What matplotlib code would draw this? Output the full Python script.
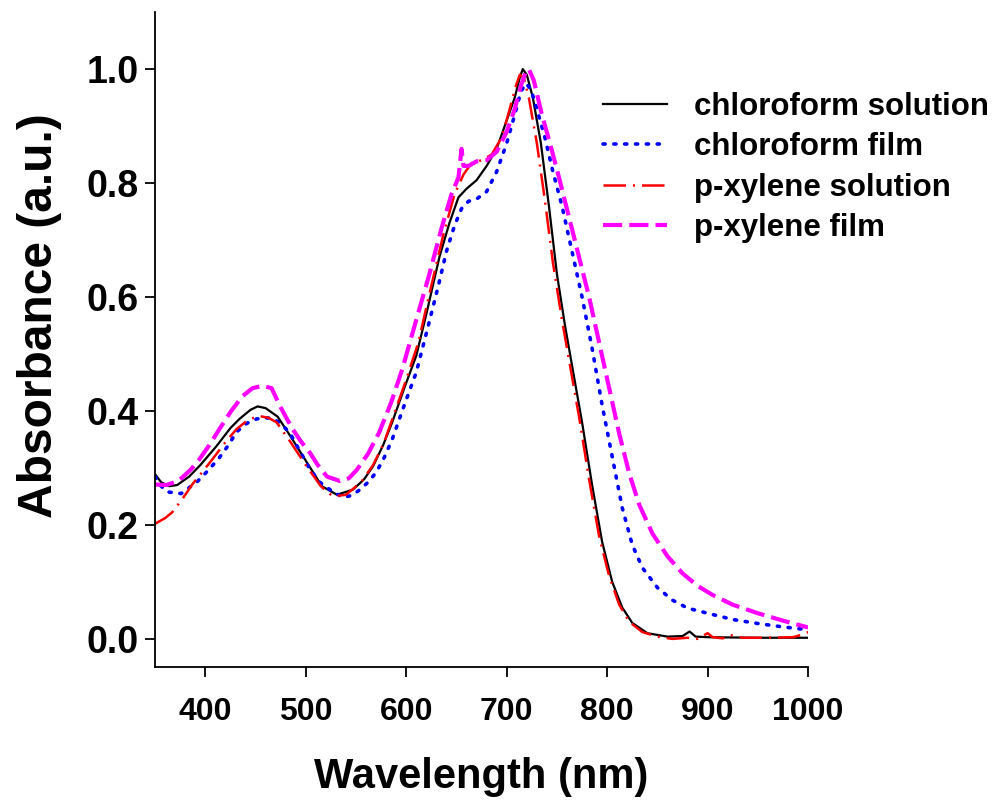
import numpy as np
import matplotlib
matplotlib.use("Agg")
import matplotlib.pyplot as plt

plt.rcParams['font.family'] = ['Liberation Sans', 'DejaVu Sans']
plt.rcParams['font.weight'] = 'bold'

wl_cs = np.array([350, 356, 364, 372, 384, 395, 411, 425, 434, 445, 452, 460, 472, 485, 501, 516, 531, 547, 558, 567,
                  577, 586, 598, 610, 620, 633, 643, 652, 660, 670, 680, 690, 700, 708, 713, 716, 720, 726, 734, 742,
                  750, 758, 766, 775, 785, 795, 805, 815, 825, 840, 860, 875, 882, 888, 900, 950, 1000])
a_cs = np.array([0.289, 0.275, 0.268, 0.27, 0.285, 0.305, 0.338, 0.37, 0.386, 0.402, 0.408, 0.405, 0.39, 0.355, 0.31,
                 0.268, 0.253, 0.262, 0.28, 0.303, 0.34, 0.38, 0.44, 0.497, 0.57, 0.67, 0.73, 0.775, 0.79, 0.805,
                 0.83, 0.86, 0.91, 0.95, 0.985, 1.0, 0.99, 0.95, 0.87, 0.76, 0.64, 0.55, 0.47, 0.38, 0.27, 0.17, 0.1,
                 0.055, 0.028, 0.01, 0.004, 0.005, 0.013, 0.004, 0.003, 0.002, 0.002])

wl_cf = np.array([350, 355, 362, 376, 392, 403, 414, 423, 431, 441, 451, 460, 467, 475, 484, 494, 504, 514, 524, 537,
                  546, 554, 562, 570, 578, 586, 598, 610, 622, 632, 640, 648, 655, 662, 670, 680, 690, 700, 708, 714,
                  719, 724, 730, 738, 746, 755, 765, 775, 785, 795, 805, 815, 825, 835, 850, 865, 880, 900, 925, 950,
                  975, 1000])
a_cf = np.array([0.285, 0.27, 0.258, 0.255, 0.276, 0.296, 0.318, 0.34, 0.363, 0.378, 0.386, 0.388, 0.387, 0.378, 0.362,
                 0.33, 0.298, 0.275, 0.262, 0.248, 0.252, 0.262, 0.275, 0.292, 0.318, 0.35, 0.41, 0.468, 0.55, 0.62,
                 0.68, 0.725, 0.755, 0.768, 0.772, 0.785, 0.82, 0.87, 0.92, 0.96, 0.975, 0.965, 0.93, 0.88, 0.82,
                 0.76, 0.68, 0.6, 0.51, 0.41, 0.32, 0.23, 0.165, 0.125, 0.09, 0.068, 0.054, 0.045, 0.034, 0.027,
                 0.021, 0.016])

wl_xs = np.array([350, 360, 367, 377, 387, 397, 407, 419, 431, 443, 454, 463, 471, 485, 500, 515, 527, 540, 555, 567,
                  578, 590, 600, 612, 625, 637, 648, 657, 665, 675, 685, 695, 703, 709, 713, 717, 722, 730, 738, 746,
                  755, 763, 772, 782, 792, 802, 812, 822, 835, 850, 865, 880, 890, 900, 905, 915, 922, 935, 960, 985,
                  995, 1000])
a_xs = np.array([0.202, 0.212, 0.222, 0.245, 0.271, 0.293, 0.315, 0.343, 0.368, 0.385, 0.391, 0.388, 0.38, 0.345,
                 0.305, 0.268, 0.25, 0.253, 0.275, 0.305, 0.345, 0.405, 0.455, 0.52, 0.62, 0.71, 0.78, 0.815, 0.835,
                 0.84, 0.85, 0.88, 0.93, 0.97, 0.99, 0.985, 0.95, 0.87, 0.77, 0.66, 0.56, 0.48, 0.39, 0.28, 0.18,
                 0.11, 0.06, 0.03, 0.012, 0.004, 0.0, 0.002, 0.0, 0.01, 0.003, 0.001, 0.007, 0.002, 0.002, 0.003,
                 0.008, 0.012])

wl_xf = np.array([350, 361, 370, 377, 386, 394, 404, 414, 425, 437, 447, 457, 466, 474, 480, 487, 495, 504, 512, 521,
                  534, 543, 551, 562, 573, 585, 596, 610, 623, 635, 645, 652, 655, 657, 662, 670, 680, 690, 700, 708,
                  714, 719, 722, 727, 735, 743, 752, 762, 772, 782, 792, 802, 812, 822, 832, 845, 860, 875, 890, 905,
                  925, 950, 975, 1000])
a_xf = np.array([0.271, 0.27, 0.275, 0.283, 0.298, 0.315, 0.34, 0.368, 0.398, 0.426, 0.44, 0.444, 0.44, 0.41, 0.39,
                 0.368, 0.347, 0.327, 0.305, 0.285, 0.277, 0.282, 0.297, 0.325, 0.362, 0.415, 0.473, 0.56, 0.64,
                 0.72, 0.78, 0.81, 0.86, 0.83, 0.83, 0.838, 0.84, 0.855, 0.89, 0.93, 0.97, 0.995, 1.0, 0.98, 0.92,
                 0.87, 0.81, 0.74, 0.67, 0.6, 0.52, 0.44, 0.36, 0.29, 0.235, 0.185, 0.145, 0.115, 0.093, 0.077,
                 0.06, 0.045, 0.032, 0.02])

labels = ["chloroform solution", "chloroform film", "p-xylene solution", "p-xylene film"]

fig = plt.figure(figsize=(9.94, 8.07), dpi=100)
ax = fig.add_axes([0.156, 0.173, 0.657, 0.812])

ax.plot(wl_cs, a_cs, color='black', lw=1.6, label=labels[0])
ax.plot(wl_cf, a_cf, color='blue', lw=2.6, linestyle=(0, (0.6, 2.4)), dash_capstyle='round', label=labels[1])
ax.plot(wl_xs, a_xs, color='red', lw=1.8, linestyle=(0, (9, 2.8, 0.8, 2.8)), label=labels[2])
ax.plot(wl_xf, a_xf, color='magenta', lw=3.0, linestyle=(0, (4.6, 1.7)), label=labels[3])

ax.set_xlim(350, 1000)
ax.set_ylim(-0.05, 1.1)
ax.set_xticks([400, 500, 600, 700, 800, 900, 1000])
ax.set_yticks([0.0, 0.2, 0.4, 0.6, 0.8, 1.0])
ax.yaxis.set_major_formatter(matplotlib.ticker.FormatStrFormatter('%.1f'))
ax.spines['top'].set_visible(False)
ax.spines['right'].set_visible(False)
for s in ['left', 'bottom']:
    ax.spines[s].set_linewidth(1.3)
ax.tick_params(axis='both', direction='out', length=7, width=1.3)
ax.tick_params(axis='x', pad=14, labelsize=23)
ax.tick_params(axis='y', pad=5, labelsize=27)

ax.set_xlabel("Wavelength (nm)", fontsize=30, fontweight='bold', labelpad=22)
ax.set_ylabel("Absorbance (a.u.)", fontsize=34.5, fontweight='bold')
ax.yaxis.set_label_coords(-0.142, 0.537)

ax.legend(loc='upper left', bbox_to_anchor=(0.607, 0.886), bbox_transform=fig.transFigure, frameon=False,
          fontsize=22.5, handlelength=2.05, handletextpad=0.86, labelspacing=0.33, borderpad=0, borderaxespad=0)

fig.savefig("out.png", dpi=100)
